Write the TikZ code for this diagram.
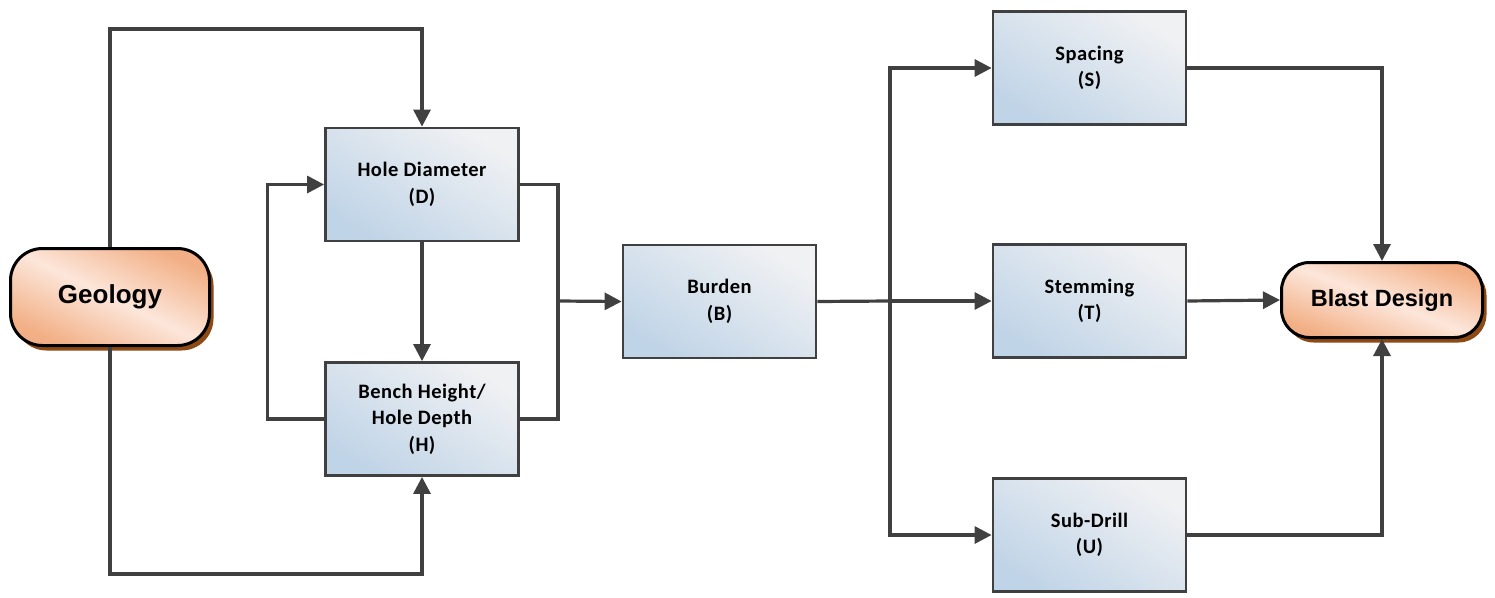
\documentclass[tikz,border=0pt]{standalone}
\usepackage{fontspec}
\setmainfont{Carlito}
\newfontfamily\ovalfont{Liberation Sans}
\newfontfamily\boxfont[LetterSpace=2.5]{Carlito}
\usetikzlibrary{arrows.meta,shadows}
\definecolor{boxblue}{HTML}{C0D4E7}
\definecolor{boxlight}{HTML}{F0F1F3}
\definecolor{peach}{HTML}{F2AF85}
\definecolor{peachlight}{HTML}{FCE6DA}
\definecolor{shadowbrown}{HTML}{8E4A14}
\definecolor{linegray}{HTML}{404040}

\begin{document}
\begin{tikzpicture}[
    x=1pt, y=-1pt,
    box/.style={draw=linegray, line width=2.8pt, align=center, minimum width=193pt,
                minimum height=113pt, top color=boxlight, bottom color=boxblue,
                shading angle=-32, font=\boxfont\bfseries\fontsize{20.5}{26.5}\selectfont},
    oval/.style={draw=black, line width=3pt, rounded corners=32pt, align=center,
                 top color=peach, bottom color=peach, middle color=peachlight,
                 shading angle=-26, font=\ovalfont\bfseries,
                 drop shadow={shadow xshift=4pt, shadow yshift=-5pt, fill=shadowbrown, opacity=1}},
    link/.style={draw=linegray, line width=3.2pt},
    arr/.style={link, -{Triangle[length=17pt, width=17pt]}}
]
\useasboundingbox (0,0) rectangle (1495,597);

\node[oval, minimum width=199pt, minimum height=97pt, font=\ovalfont\bfseries\fontsize{26}{30}\selectfont] (geo) at (110,297) {Geology};

\node[box] (hole) at (422,184.5) {Hole Diameter\\(D)};
\node[box] (bench) at (422,419) {Bench Height/\\Hole Depth\\(H)};
\node[box] (burden) at (719.5,301.5) {Burden\\(B)};

\node[box] (spacing) at (1089.5,68) {Spacing\\(S)};
\node[box] (stem) at (1089.5,301) {Stemming\\(T)};
\node[box] (subdrill) at (1089.5,535) {Sub-Drill\\(U)};

\node[oval, minimum width=201pt, minimum height=75pt, rounded corners=28pt, shading angle=-21, font=\ovalfont\bfseries\fontsize{23.5}{27}\selectfont] (blast) at (1382,300) {Blast Design};

\coordinate (topbend) at (110,29);
\coordinate (botbend) at (110,574);
\coordinate (merge) at (558,301);
\coordinate (split) at (890,301);

\draw[arr] (geo.north) -- (topbend) -| (hole.north);
\draw[arr] (geo.south) -- (botbend) -| (bench.south);
\draw[arr] (hole) -- (bench);
\draw[arr] (bench.west) -- ++(-57,0) |- (hole.west);

\draw[link] (hole.east) -| (merge);
\draw[link] (bench.east) -| (merge);
\draw[arr] (merge) -- (burden.west);

\draw[link] (burden.east) -- (split);
\draw[arr] (split) |- (spacing.west);
\draw[arr] (split) -- (stem.west);
\draw[arr] (split) |- (subdrill.west);

\draw[arr] (spacing.east) -| (blast.north);
\draw[arr] (stem.east) -- (blast.west);
\draw[arr] (subdrill.east) -| (blast.south);

\end{tikzpicture}
\end{document}
